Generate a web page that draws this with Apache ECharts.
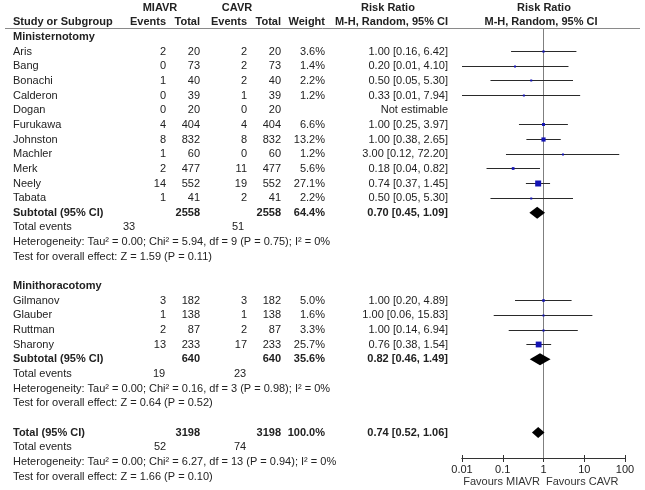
<!DOCTYPE html>
<html><head><meta charset="utf-8">
<script src="https://cdn.jsdelivr.net/npm/echarts@6/dist/echarts.min.js"></script>
<style>html,body{margin:0;padding:0;background:#fff}#c{width:645px;height:490px}</style>
</head><body><div id="c"></div>
<script>
// ---------- DATA ----------
const group1Name = 'Ministernotomy';
const group1Studies = ['Aris','Bang','Bonachi','Calderon','Dogan','Furukawa','Johnston','Machler','Merk','Neely','Tabata'];
const group1MiavrEvents = [2,0,1,0,0,4,8,1,2,14,1];
const group1MiavrTotal  = [20,73,40,39,20,404,832,60,477,552,41];
const group1CavrEvents  = [2,2,2,1,0,4,8,0,11,19,2];
const group1CavrTotal   = [20,73,40,39,20,404,832,60,477,552,41];
const group1Weight      = [3.6,1.4,2.2,1.2,null,6.6,13.2,1.2,5.6,27.1,2.2];
const group1RR          = [1.00,0.20,0.50,0.33,null,1.00,1.00,3.00,0.18,0.74,0.50];
const group1Low         = [0.16,0.01,0.05,0.01,null,0.25,0.38,0.12,0.04,0.37,0.05];
const group1High        = [6.42,4.10,5.30,7.94,null,3.97,2.65,72.20,0.82,1.45,5.30];
const group1Subtotal    = {miTot:2558, caTot:2558, w:64.4, rr:0.70, lo:0.45, hi:1.09, miEv:33, caEv:51,
                           tau:0.00, chi:5.94, df:9, pHet:0.75, i2:0, z:1.59, p:0.11};

const group2Name = 'Minithoracotomy';
const group2Studies = ['Gilmanov','Glauber','Ruttman','Sharony'];
const group2MiavrEvents = [3,1,2,13];
const group2MiavrTotal  = [182,138,87,233];
const group2CavrEvents  = [3,1,2,17];
const group2CavrTotal   = [182,138,87,233];
const group2Weight      = [5.0,1.6,3.3,25.7];
const group2RR          = [1.00,1.00,1.00,0.76];
const group2Low         = [0.20,0.06,0.14,0.38];
const group2High        = [4.89,15.83,6.94,1.54];
const group2Subtotal    = {miTot:640, caTot:640, w:35.6, rr:0.82, lo:0.46, hi:1.49, miEv:19, caEv:23,
                           tau:0.00, chi:0.16, df:3, pHet:0.98, i2:0, z:0.64, p:0.52};

const overallTotal      = {miTot:3198, caTot:3198, w:100.0, rr:0.74, lo:0.52, hi:1.06, miEv:52, caEv:74,
                           tau:0.00, chi:6.27, df:13, pHet:0.94, i2:0, z:1.66, p:0.10};

const axisTickLabels = ['0.01','0.1','1','10','100'];
const favoursLeft = 'Favours MIAVR';
const favoursRight = 'Favours CAVR';

// ---------- LAYOUT ----------
const FONT = '"Liberation Sans", Arial, Helvetica, sans-serif';
const ROW0 = 37, STEP = 14.65;           // pixel of row 0 and row height
const COL = {name:13, miEv:166, miTot:200, caEv:247, caTot:281, wt:325, rr:448};
const TOTEV = [[129,238],[159,240],[160,240]]; // centres of total-event numbers per block
const PLOT = {left:462, right:625, top:28, bottom:458};

const groups = [
  {name:group1Name, studies:group1Studies, miEv:group1MiavrEvents, miTot:group1MiavrTotal, caEv:group1CavrEvents,
   caTot:group1CavrTotal, w:group1Weight, rr:group1RR, lo:group1Low, hi:group1High, sub:group1Subtotal},
  {name:group2Name, studies:group2Studies, miEv:group2MiavrEvents, miTot:group2MiavrTotal, caEv:group2CavrEvents,
   caTot:group2CavrTotal, w:group2Weight, rr:group2RR, lo:group2Low, hi:group2High, sub:group2Subtotal}
];

const cells = [];
const plotItems = [];
function add(x, r, t, align, bold) { cells.push({x, r, t: String(t), align, bold: !!bold}); }
const f2 = v => v.toFixed(2);
const ci = (rr, lo, hi) => `${f2(rr)} [${f2(lo)}, ${f2(hi)}]`;
const het = s => `Heterogeneity: Tau\u00b2 = ${f2(s.tau)}; Chi\u00b2 = ${f2(s.chi)}, df = ${s.df} (P = ${f2(s.pHet)}); I\u00b2 = ${s.i2}%`;
const test = s => `Test for overall effect: Z = ${f2(s.z)} (P = ${f2(s.p)})`;

// headers
add(160, -2, 'MIAVR', 'center', true);
add(237, -2, 'CAVR', 'center', true);
add(388, -2, 'Risk Ratio', 'center', true);
add(544, -2, 'Risk Ratio', 'center', true);
add(COL.name, -1, 'Study or Subgroup', 'left', true);
add(COL.miEv, -1, 'Events', 'right', true);
add(COL.miTot, -1, 'Total', 'right', true);
add(COL.caEv, -1, 'Events', 'right', true);
add(COL.caTot, -1, 'Total', 'right', true);
add(COL.wt, -1, 'Weight', 'right', true);
add(COL.rr, -1, 'M-H, Random, 95% CI', 'right', true);
add(541, -1, 'M-H, Random, 95% CI', 'center', true);

let r = 0;
groups.forEach((g, gi) => {
  add(COL.name, r, g.name, 'left', true); r++;
  g.studies.forEach((s, i) => {
    add(COL.name, r, s, 'left');
    add(COL.miEv, r, g.miEv[i], 'right');
    add(COL.miTot, r, g.miTot[i], 'right');
    add(COL.caEv, r, g.caEv[i], 'right');
    add(COL.caTot, r, g.caTot[i], 'right');
    if (g.rr[i] == null) {
      add(COL.rr, r, 'Not estimable', 'right');
    } else {
      add(COL.wt, r, g.w[i].toFixed(1) + '%', 'right');
      add(COL.rr, r, ci(g.rr[i], g.lo[i], g.hi[i]), 'right');
      plotItems.push({kind:'study', lo:g.lo[i], hi:g.hi[i], est:g.rr[i], r, w:g.w[i]});
    }
    r++;
  });
  const s = g.sub;
  add(COL.name, r, 'Subtotal (95% CI)', 'left', true);
  add(COL.miTot, r, s.miTot, 'right', true);
  add(COL.caTot, r, s.caTot, 'right', true);
  add(COL.wt, r, s.w.toFixed(1) + '%', 'right', true);
  add(COL.rr, r, ci(s.rr, s.lo, s.hi), 'right', true);
  plotItems.push({kind:'diamond', lo:s.lo, hi:s.hi, est:s.rr, r, half:6});
  r++;
  add(COL.name, r, 'Total events', 'left');
  add(TOTEV[gi][0], r, s.miEv, 'center');
  add(TOTEV[gi][1], r, s.caEv, 'center');
  r++;
  add(COL.name, r, het(s), 'left'); r++;
  add(COL.name, r, test(s), 'left'); r++;
  r++;
});
{
  const s = overallTotal;
  add(COL.name, r, 'Total (95% CI)', 'left', true);
  add(COL.miTot, r, s.miTot, 'right', true);
  add(COL.caTot, r, s.caTot, 'right', true);
  add(COL.wt, r, s.w.toFixed(1) + '%', 'right', true);
  add(COL.rr, r, ci(s.rr, s.lo, s.hi), 'right', true);
  plotItems.push({kind:'diamond', lo:s.lo, hi:s.hi, est:s.rr, r, half:5.5});
  r++;
  add(COL.name, r, 'Total events', 'left');
  add(TOTEV[2][0], r, s.miEv, 'center');
  add(TOTEV[2][1], r, s.caEv, 'center');
  r++;
  add(COL.name, r, het(s), 'left'); r++;
  add(COL.name, r, test(s), 'left'); r++;
}

const rowAt = px => (px - ROW0) / STEP;
const crisp = v => Math.round(v - 0.5) + 0.5;

const chart = echarts.init(document.getElementById('c'), null, {renderer:'canvas'});
chart.setOption({
  animation: false,
  backgroundColor: '#fff',
  textStyle: {fontFamily: FONT},
  grid: [
    {left: PLOT.left, top: PLOT.top, width: PLOT.right - PLOT.left, height: PLOT.bottom - PLOT.top, outerBoundsMode:'none', containLabel:false},
    {left: 0, top: 0, width: 645, height: 490, outerBoundsMode:'none', containLabel:false}
  ],
  xAxis: [
    {type:'log', gridIndex:0, min:0.01, max:100, logBase:10, position:'bottom',
     axisLine:{show:true, onZero:false, lineStyle:{color:'#333', width:1}},
     axisTick:{show:true, length:4, lineStyle:{color:'#333'}},
     axisLabel:{show:true, margin:6, fontSize:11, color:'#222', fontFamily:FONT,
       formatter: v => { const k = Math.round(Math.log10(v)) + 2; return axisTickLabels[k] ?? ''; }},
     splitLine:{show:false}, minorTick:{show:false}},
    {type:'log', gridIndex:0, min:0.01, max:100, logBase:10, position:'bottom',
     axisLine:{show:true, onZero:false, lineStyle:{color:'#333', width:1}},
     axisTick:{show:true, inside:true, length:3, lineStyle:{color:'#333'}},
     axisLabel:{show:false}, splitLine:{show:false}},
    {type:'value', gridIndex:1, min:0, max:645, show:false}
  ],
  yAxis: [
    {type:'value', gridIndex:0, inverse:true, min:rowAt(PLOT.top), max:rowAt(PLOT.bottom), show:false},
    {type:'value', gridIndex:1, inverse:true, min:rowAt(0), max:rowAt(490), show:false}
  ],
  graphic: [
    {type:'line', shape:{x1:5, y1:28.5, x2:640, y2:28.5}, style:{stroke:'#8a8a8a', lineWidth:1}, z:10},
    {type:'text', x:540, y:482, style:{text:favoursLeft, align:'right', verticalAlign:'middle', font:'11px ' + FONT, fill:'#333'}},
    {type:'text', x:546, y:482, style:{text:favoursRight, align:'left', verticalAlign:'middle', font:'11px ' + FONT, fill:'#333'}}
  ],
  series: [
    {type:'line', xAxisIndex:0, yAxisIndex:0, data:[], silent:true, z:1,
     markLine:{silent:true, symbol:'none', label:{show:false}, animation:false,
       lineStyle:{color:'#7f7f7f', type:'solid', width:1}, data:[{xAxis:1}]}},
    {type:'custom', xAxisIndex:0, yAxisIndex:0, silent:true, clip:false, z:5,
     data: plotItems.map(it => [it.lo, it.r, it.hi, it.est]),
     encode:{x:[0,2,3], y:1},
     renderItem(params, api) {
       const it = plotItems[params.dataIndex];
       const pl = api.coord([it.lo, it.r]), ph = api.coord([it.hi, it.r]), pe = api.coord([it.est, it.r]);
       if (it.kind === 'study') {
         const s = Math.max(2, 1.15 * Math.sqrt(it.w));
         const y = crisp(pl[1]);
         return {type:'group', children:[
           {type:'line', shape:{x1:pl[0], y1:y, x2:ph[0], y2:y}, style:{stroke:'#2a2a2a', lineWidth:1}},
           {type:'rect', shape:{x:pe[0]-s/2, y:y-s/2, width:s, height:s}, style:{fill:'#1414b4'}}
         ]};
       }
       const h = it.half;
       return {type:'polygon', shape:{points:[[pl[0],pe[1]],[pe[0],pe[1]-h],[ph[0],pe[1]],[pe[0],pe[1]+h]]},
               style:{fill:'#000'}};
     }},
    {type:'custom', xAxisIndex:2, yAxisIndex:1, silent:true, clip:false,
     data: cells.map(c => [c.x, c.r]),
     renderItem(params, api) {
       const c = cells[params.dataIndex];
       const p = api.coord([c.x, c.r]);
       return {type:'text', x:p[0], y:p[1], style:{text:c.t, align:c.align, verticalAlign:'middle',
         font:(c.bold ? 'bold ' : '') + '11px ' + FONT, fill:'#222'}};
     }}
  ]
});
</script></body></html>
